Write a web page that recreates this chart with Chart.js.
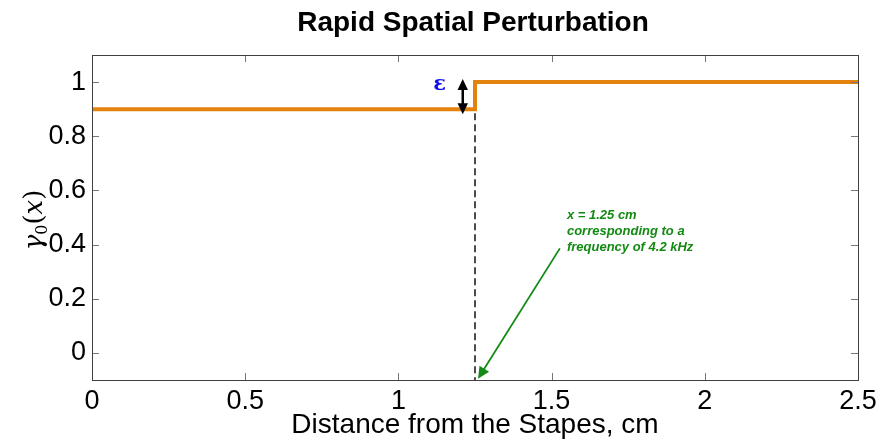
<!DOCTYPE html>
<html>
<head>
<meta charset="utf-8">
<script src="https://cdn.jsdelivr.net/npm/chart.js@4"></script>
<style>
  html, body { margin: 0; padding: 0; background: #fff; }
  #wrap { width: 893px; height: 442px; }
</style>
</head>
<body>
<div id="wrap"><canvas id="stepChart"></canvas></div>
<script>
/* ── step profile of gamma0 along the cochlea ── */

const xDist   = [0, 1.25, 1.25, 2.5];     // cm from stapes
const gamma0  = [0.9, 0.9, 1.0, 1.0];
const xTicks  = [0, 0.5, 1, 1.5, 2, 2.5];
const yTicks  = [0, 0.2, 0.4, 0.6, 0.8, 1];

const STEP_X    = 1.25;
const EPS_X     = 1.21;   // where the epsilon arrow sits
const NOTE_FROM = [1.527, 0.386];
const NOTE_TO   = [1.26, -0.095];
const NOTE_LINES = ['x = 1.25 cm', 'corresponding to a', 'frequency of 4.2 kHz'];
const NOTE_POS  = [1.55, 0.507];

const FONT = "'Liberation Sans', Arial, Helvetica, sans-serif";

function arrowHead(ctx, x0, y0, x1, y1, size, color) {
  const a = Math.atan2(y1 - y0, x1 - x0);
  ctx.save();
  ctx.fillStyle = color;
  ctx.beginPath();
  ctx.moveTo(x1, y1);
  ctx.lineTo(x1 - size * Math.cos(a - 0.45), y1 - size * Math.sin(a - 0.45));
  ctx.lineTo(x1 - size * Math.cos(a + 0.45), y1 - size * Math.sin(a + 0.45));
  ctx.closePath();
  ctx.fill();
  ctx.restore();
}

// box, inward ticks, title, y label and annotations
const decor = {
  id: 'decor',
  beforeDatasetsDraw(chart) {
    const { ctx, chartArea: a, scales: { x, y } } = chart;
    ctx.save();
    // dashed marker at the step
    ctx.strokeStyle = '#000';
    ctx.lineWidth = 1.4;
    ctx.setLineDash([7, 4]);
    ctx.beginPath();
    ctx.moveTo(x.getPixelForValue(STEP_X), y.getPixelForValue(0.9) + 4);
    ctx.lineTo(x.getPixelForValue(STEP_X), a.bottom);
    ctx.stroke();
    ctx.restore();
  },
  afterDraw(chart) {
    const { ctx, chartArea: a, scales: { x, y } } = chart;
    ctx.save();

    // ticks pointing inward on all four sides
    ctx.strokeStyle = '#777';
    ctx.lineWidth = 1;
    const tl = 7;
    xTicks.forEach(v => {
      const px = Math.round(x.getPixelForValue(v)) + 0.5;
      ctx.beginPath();
      ctx.moveTo(px, a.bottom); ctx.lineTo(px, a.bottom - tl);
      ctx.moveTo(px, a.top);    ctx.lineTo(px, a.top + tl);
      ctx.stroke();
    });
    yTicks.forEach(v => {
      const py = Math.round(y.getPixelForValue(v)) + 0.5;
      ctx.beginPath();
      ctx.moveTo(a.left, py);  ctx.lineTo(a.left + tl, py);
      ctx.moveTo(a.right, py); ctx.lineTo(a.right - tl, py);
      ctx.stroke();
    });

    // axes box
    ctx.strokeStyle = '#404040';
    ctx.strokeRect(Math.round(a.left) + 0.5, Math.round(a.top) + 0.5,
                   Math.round(a.right - a.left), Math.round(a.bottom - a.top));

    // title
    ctx.fillStyle = '#000';
    ctx.font = 'bold 28px ' + FONT;
    ctx.textAlign = 'center';
    ctx.textBaseline = 'middle';
    ctx.fillText('Rapid Spatial Perturbation', (a.left + a.right) / 2 - 2, 23);

    // y axis label: gamma_0(x)
    ctx.save();
    ctx.translate(33, 220);
    ctx.rotate(-Math.PI / 2);
    ctx.textBaseline = 'alphabetic';
    ctx.textAlign = 'left';
    const parts = [
      ['γ', 'italic 26px "DejaVu Serif", serif', 0],
      ['0', '16px "DejaVu Serif", serif', 5],
      ['(', '26px "DejaVu Serif", serif', 0],
      ['x', 'italic 26px "DejaVu Serif", serif', 0],
      [')', '26px "DejaVu Serif", serif', 0],
    ];
    let w = 0;
    parts.forEach(p => { ctx.font = p[1]; w += ctx.measureText(p[0]).width; });
    let cx = -w / 2;
    parts.forEach(p => {
      ctx.font = p[1];
      ctx.fillText(p[0], cx, 9 + p[2]);
      cx += ctx.measureText(p[0]).width;
    });
    ctx.restore();

    // epsilon double arrow
    const ex = x.getPixelForValue(EPS_X);
    const ey0 = y.getPixelForValue(1.0) - 3, ey1 = y.getPixelForValue(0.9) + 5;
    ctx.strokeStyle = '#000';
    ctx.lineWidth = 2.5;
    ctx.beginPath();
    ctx.moveTo(ex, ey0 + 8); ctx.lineTo(ex, ey1 - 8);
    ctx.stroke();
    arrowHead(ctx, ex, ey1, ex, ey0, 12, '#000');
    arrowHead(ctx, ex, ey0, ex, ey1, 12, '#000');
    ctx.fillStyle = '#1010ee';
    ctx.font = 'bold 21px "DejaVu Serif", serif';
    ctx.textAlign = 'center';
    ctx.textBaseline = 'middle';
    ctx.fillText('ε', ex - 23, y.getPixelForValue(0.99));

    // green pointer to the step location
    const gx0 = x.getPixelForValue(NOTE_FROM[0]), gy0 = y.getPixelForValue(NOTE_FROM[1]);
    const gx1 = x.getPixelForValue(NOTE_TO[0]),   gy1 = y.getPixelForValue(NOTE_TO[1]);
    ctx.strokeStyle = '#138a13';
    ctx.lineWidth = 1.8;
    ctx.beginPath();
    ctx.moveTo(gx0, gy0);
    ctx.lineTo(gx1 + (gx0 - gx1) * 0.06, gy1 + (gy0 - gy1) * 0.06);
    ctx.stroke();
    arrowHead(ctx, gx0, gy0, gx1, gy1, 13, '#138a13');

    ctx.fillStyle = '#138a13';
    ctx.font = 'italic bold 13px ' + FONT;
    ctx.textAlign = 'left';
    ctx.textBaseline = 'middle';
    const nx = x.getPixelForValue(NOTE_POS[0]);
    let ny = y.getPixelForValue(NOTE_POS[1]);
    NOTE_LINES.forEach(t => { ctx.fillText(t, nx, ny); ny += 16; });

    ctx.restore();
  },
};

new Chart(document.getElementById('stepChart'), {
  type: 'scatter',
  data: {
    datasets: [{
      data: xDist.map((v, i) => ({ x: v, y: gamma0[i] })),
      showLine: true,
      borderColor: '#e3820c',
      borderWidth: 4,
      pointRadius: 0,
      tension: 0,
    }],
  },
  options: {
    responsive: true,
    maintainAspectRatio: false,
    animation: false,
    events: [],
    layout: { padding: { top: 55, right: 35, left: 0, bottom: 0 } },
    plugins: { legend: { display: false }, tooltip: { enabled: false }, title: { display: false } },
    scales: {
      x: {
        type: 'linear',
        min: 0, max: 2.5,
        afterBuildTicks: s => { s.ticks = xTicks.map(v => ({ value: v })); },
        afterFit: s => { s.height = 62; },
        grid: { display: false, drawTicks: false },
        border: { display: false },
        ticks: { color: '#000', padding: 5, font: { family: FONT, size: 27 }, callback: v => String(v) },
        title: {
          display: true,
          text: 'Distance from the Stapes, cm',
          color: '#000',
          font: { family: FONT, size: 28 },
          padding: { top: -5, bottom: 0 },
        },
      },
      y: {
        min: -0.1, max: 1.1,
        afterBuildTicks: s => { s.ticks = yTicks.map(v => ({ value: v })); },
        afterFit: s => { s.width = 92; },
        grid: { display: false, drawTicks: false },
        border: { display: false },
        ticks: { color: '#000', padding: 6, font: { family: FONT, size: 27 }, callback: v => String(v) },
      },
    },
  },
  plugins: [decor],
});
</script>
</body>
</html>
